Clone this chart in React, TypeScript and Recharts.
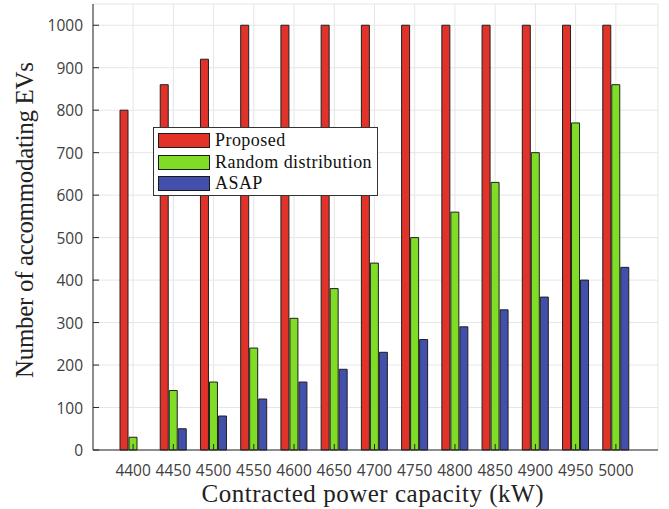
import React from 'react';
import { BarChart, Bar, XAxis, YAxis, CartesianGrid, Legend } from 'recharts';

const capacities = [4400, 4450, 4500, 4550, 4600, 4650, 4700, 4750, 4800, 4850, 4900, 4950, 5000];
const proposed = [800, 860, 920, 1000, 1000, 1000, 1000, 1000, 1000, 1000, 1000, 1000, 1000];
const randomDistribution = [30, 140, 160, 240, 310, 380, 440, 500, 560, 630, 700, 770, 860];
const asap = [0, 50, 80, 120, 160, 190, 230, 260, 290, 330, 360, 400, 430];
const yTicks = [0, 100, 200, 300, 400, 500, 600, 700, 800, 900, 1000];
const seriesNames = ['Proposed', 'Random distribution', 'ASAP'];
const seriesColors = ['#E2332A', '#80DD25', '#4350AB'];

const data = capacities.map((c, i) => ({
  cap: String(c),
  proposed: proposed[i],
  random: randomDistribution[i],
  asap: asap[i],
}));

const W = 669;
const H = 509;
const TICK_LEN = 6;
const AXIS_COLOR = '#262626';
const TICK_TEXT = '#404040';
const SANS = '"Open Sans", "Noto Sans", sans-serif';
const SERIF = '"Liberation Serif", "Times New Roman", serif';

const LeftTick = (props: any) => {
  const { x, y, payload } = props;
  return (
    <g>
      <line x1={x} x2={x + TICK_LEN} y1={y} y2={y} stroke={AXIS_COLOR} strokeWidth={1} />
      <text x={x - 10} y={y} textAnchor="end" dominantBaseline="central" fill={TICK_TEXT} fontSize={15.5} fontFamily={SANS}>
        {payload.value}
      </text>
    </g>
  );
};

const RightTick = (props: any) => {
  const { x, y } = props;
  return <line x1={x - TICK_LEN} x2={x} y1={y} y2={y} stroke={AXIS_COLOR} strokeWidth={1} />;
};

const BottomTick = (props: any) => {
  const { x, y, payload } = props;
  return (
    <g>
      <line x1={x} x2={x} y1={y} y2={y - TICK_LEN} stroke={AXIS_COLOR} strokeWidth={1} />
      <text x={x} y={y + 20} textAnchor="middle" dominantBaseline="central" fill={TICK_TEXT} fontSize={15.5} fontFamily={SANS}>
        {payload.value}
      </text>
    </g>
  );
};

const TopTick = (props: any) => {
  const { x, y } = props;
  return <line x1={x} x2={x} y1={y} y2={y + TICK_LEN} stroke={AXIS_COLOR} strokeWidth={1} />;
};

const LegendBox = () => (
  <div
    style={{
      position: 'relative',
      width: 225,
      height: 69,
      border: '1px solid #333',
      background: '#fff',
      boxSizing: 'border-box',
      fontFamily: SERIF,
      fontSize: 18,
      letterSpacing: 0.45,
      color: '#111',
    }}
  >
    {seriesNames.map((name, i) => (
      <div key={name} style={{ position: 'absolute', left: 4, top: 4 + i * 21.5, height: 17, display: 'flex', alignItems: 'center' }}>
        <div style={{ width: 52, height: 15, background: seriesColors[i], border: '1px solid #1a1a1a', boxSizing: 'border-box', flex: 'none' }} />
        <span style={{ marginLeft: 5, whiteSpace: 'nowrap', lineHeight: '17px' }}>{name}</span>
      </div>
    ))}
  </div>
);

const YLabel = (props: any) => {
  const { viewBox } = props;
  const cx = 24;
  const cy = viewBox.y + viewBox.height / 2 - 7;
  return (
    <text
      x={cx}
      y={cy}
      transform={`rotate(-90 ${cx} ${cy})`}
      textAnchor="middle"
      dominantBaseline="central"
      fill="#222"
      fontSize={25}
      fontFamily={SERIF}
      textLength={316}
      lengthAdjust="spacing"
    >
      Number of accommodating EVs
    </text>
  );
};

const XLabel = (props: any) => {
  const { viewBox } = props;
  const cx = viewBox.x + viewBox.width / 2 - 3;
  return (
    <text
      x={cx}
      y={493}
      textAnchor="middle"
      dominantBaseline="central"
      fill="#222"
      fontSize={25}
      fontFamily={SERIF}
      textLength={342}
      lengthAdjust="spacing"
    >
      Contracted power capacity (kW)
    </text>
  );
};

export default function App() {
  return (
    <div style={{ position: 'absolute', left: 0, top: 0, width: W, height: H, background: '#fff' }}>
      <BarChart
        width={W}
        height={H}
        data={data}
        margin={{ top: 4, right: 11, bottom: 0, left: 0 }}
        barSize={8}
        barGap={1}
      >
        <CartesianGrid stroke="#e6e6e6" strokeWidth={1} />
        <Bar dataKey="proposed" name={seriesNames[0]} fill={seriesColors[0]} stroke="#1f1f1f" strokeWidth={1} isAnimationActive={false} />
        <Bar dataKey="random" name={seriesNames[1]} fill={seriesColors[1]} stroke="#1f1f1f" strokeWidth={1} isAnimationActive={false} />
        <Bar dataKey="asap" name={seriesNames[2]} fill={seriesColors[2]} stroke="#1f1f1f" strokeWidth={1} isAnimationActive={false} />
        <XAxis
          dataKey="cap"
          height={59}
          padding={{ left: 20, right: 22 }}
          tickSize={0}
          tickMargin={0}
          tickLine={false}
          axisLine={{ stroke: AXIS_COLOR }}
          tick={<BottomTick />}
          interval={0}
          label={<XLabel />}
        />
        <XAxis
          xAxisId="top"
          dataKey="cap"
          orientation="top"
          height={0}
          padding={{ left: 20, right: 22 }}
          tickSize={0}
          tickMargin={0}
          tickLine={false}
          axisLine={{ stroke: AXIS_COLOR }}
          tick={<TopTick />}
          interval={0}
        />
        <YAxis
          type="number"
          domain={[0, 1050]}
          ticks={yTicks}
          width={93}
          tickSize={0}
          tickMargin={0}
          tickLine={false}
          axisLine={{ stroke: AXIS_COLOR }}
          tick={<LeftTick />}
          interval={0}
          label={<YLabel />}
        />
        <YAxis
          yAxisId="right"
          orientation="right"
          type="number"
          domain={[0, 1050]}
          ticks={yTicks}
          width={0}
          tickSize={0}
          tickMargin={0}
          tickLine={false}
          axisLine={{ stroke: AXIS_COLOR }}
          tick={<RightTick />}
          interval={0}
        />
        <Legend
          layout="vertical"
          align="center"
          verticalAlign="middle"
          wrapperStyle={{ left: 153, top: 127, width: 225 }}
          content={<LegendBox />}
        />
      </BarChart>
    </div>
  );
}
